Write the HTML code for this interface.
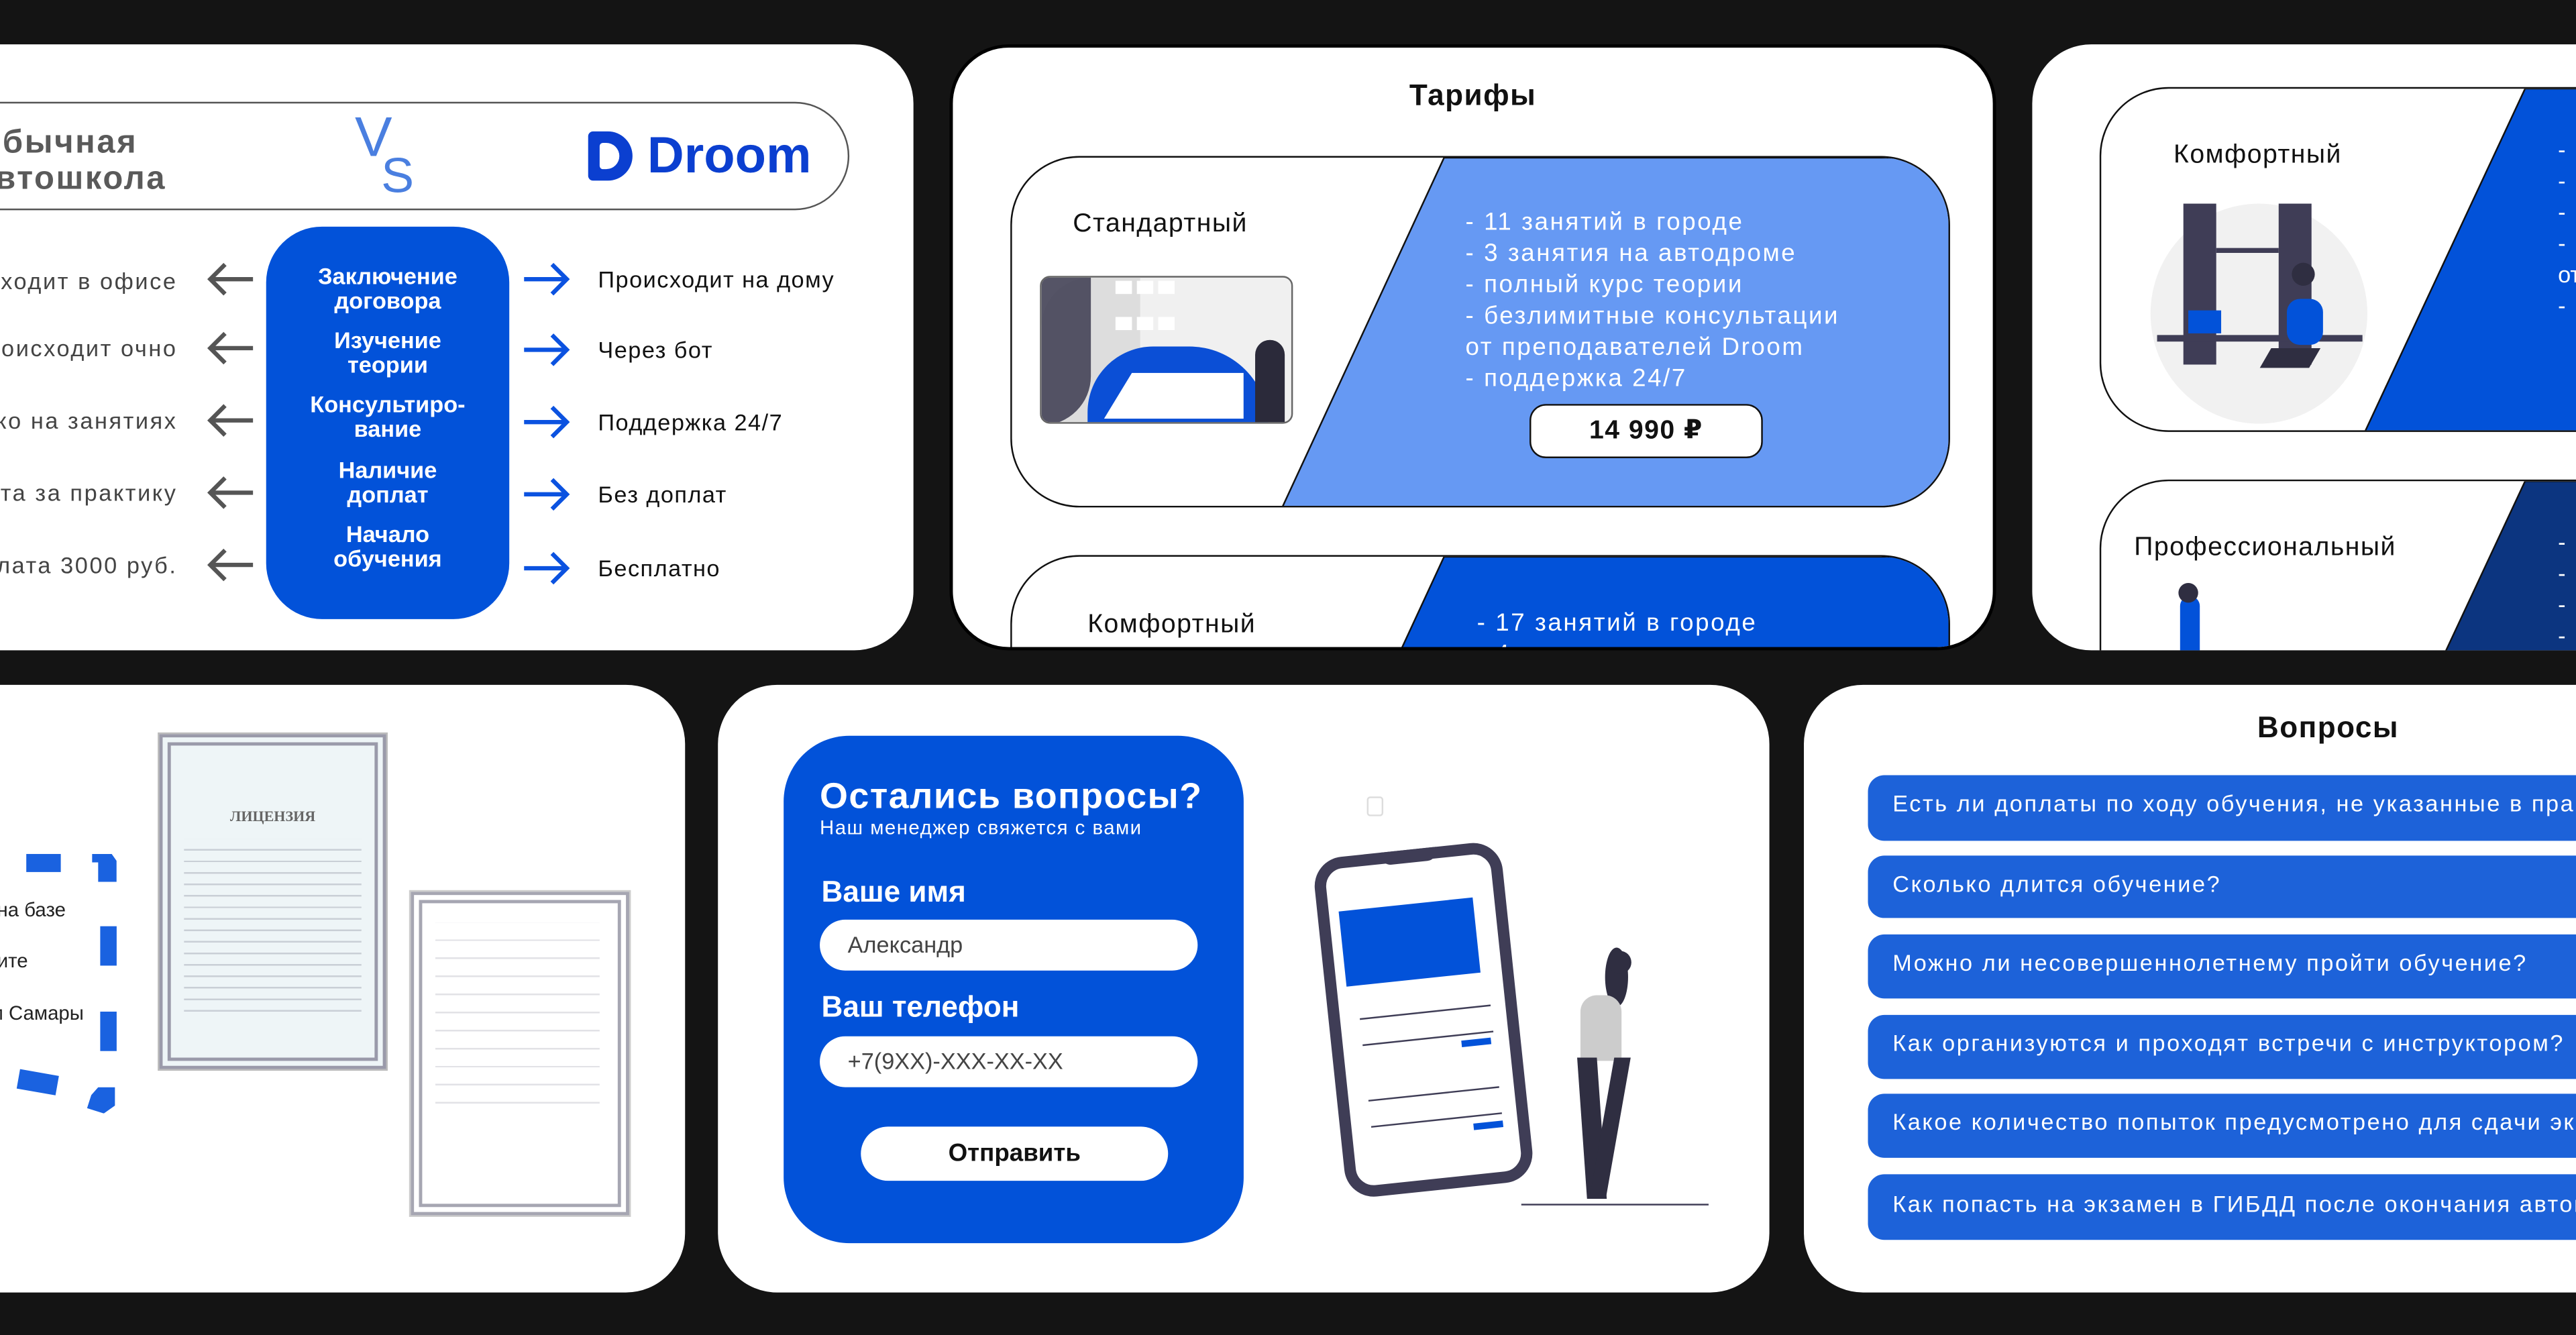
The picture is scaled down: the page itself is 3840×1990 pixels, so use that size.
<!DOCTYPE html>
<html><head><meta charset="utf-8"><style>
*{margin:0;padding:0;box-sizing:border-box}
html,body{width:3840px;height:1990px;overflow:hidden;background:#141414}
#w{position:absolute;left:0;top:0;width:1568px;height:813px;transform:scale(2.449,2.448);transform-origin:0 0;font-family:"Liberation Sans","DejaVu Sans",sans-serif}
.a{position:absolute}
.card{position:absolute;background:#fff;border-radius:36px;overflow:hidden}
.t{position:absolute;white-space:nowrap;line-height:1}
.b{font-weight:bold}
.ls{letter-spacing:.6px}
.ls2{letter-spacing:1.05px}
</style></head><body><div id="w">

<!-- Card 1 -->
<div class="card" style="left:-40px;top:27px;width:596px;height:369px">
  <div class="a" style="left:-20px;top:35px;width:577px;height:66px;border:1.3px solid #555;border-radius:33px"></div>
  <div class="t b ls2" style="left:25px;top:49px;font-size:20px;color:#5a5a5a;line-height:22px">Обычная<br>автошкола</div>
  <div class="t" style="left:256px;top:40px;font-size:34px;color:#4a7fe0;font-weight:300">V</div>
  <div class="t" style="left:272px;top:66px;font-size:30px;color:#4a7fe0">S</div>
  <div class="a" style="left:398px;top:53px;width:27px;height:30px;background:#0b3fd0;border-radius:3px 15px 15px 3px"></div>
  <div class="a" style="left:405px;top:60px;width:12px;height:16px;background:#fff;border-radius:2px 8px 8px 2px"></div>
  <div class="t b" style="left:434px;top:52px;font-size:31px;color:#0b3fd0">Droom</div>
  <div class="a" style="left:202px;top:111px;width:148px;height:239px;background:#0252d9;border-radius:34px"></div>
  <div class="t b" style="left:202px;width:148px;text-align:center;top:134px;font-size:14px;color:#fff;line-height:15px">Заключение<br>договора</div>
  <div class="t b" style="left:202px;width:148px;text-align:center;top:173px;font-size:14px;color:#fff;line-height:15px">Изучение<br>теории</div>
  <div class="t b" style="left:202px;width:148px;text-align:center;top:212px;font-size:14px;color:#fff;line-height:15px">Консультиро-<br>вание</div>
  <div class="t b" style="left:202px;width:148px;text-align:center;top:252px;font-size:14px;color:#fff;line-height:15px">Наличие<br>доплат</div>
  <div class="t b" style="left:202px;width:148px;text-align:center;top:291px;font-size:14px;color:#fff;line-height:15px">Начало<br>обучения</div>
  <svg class="a" style="left:0;top:0" width="596" height="369">
    <g stroke="#555" stroke-width="2.6" fill="none">
      <path d="M194 143H168M177 134L168 143L177 152"/><path d="M194 185H168M177 176L168 185L177 194"/>
      <path d="M194 229H168M177 220L168 229L177 238"/><path d="M194 273H168M177 264L168 273L177 282"/>
      <path d="M194 317H168M177 308L168 317L177 326"/>
    </g>
    <g stroke="#0b52e0" stroke-width="2.6" fill="none">
      <path d="M359 143H385M376 134L385 143L376 152"/><path d="M359 186H385M376 177L385 186L376 195"/>
      <path d="M359 230H385M376 221L385 230L376 239"/><path d="M359 274H385M376 265L385 274L376 283"/>
      <path d="M359 319H385M376 310L385 319L376 328"/>
    </g>
  </svg>
  <div class="t ls2" style="right:448px;top:137px;font-size:14px;color:#444">Происходит в офисе</div>
  <div class="t ls2" style="right:448px;top:178px;font-size:14px;color:#444">Происходит очно</div>
  <div class="t ls2" style="right:448px;top:222px;font-size:14px;color:#444">Только на занятиях</div>
  <div class="t ls2" style="right:448px;top:266px;font-size:14px;color:#444">Оплата за практику</div>
  <div class="t ls2" style="right:448px;top:310px;font-size:14px;color:#444">Предоплата 3000 руб.</div>
  <div class="t ls" style="left:404px;top:136px;font-size:14px;color:#111">Происходит на дому</div>
  <div class="t ls" style="left:404px;top:179px;font-size:14px;color:#111">Через бот</div>
  <div class="t ls" style="left:404px;top:223px;font-size:14px;color:#111">Поддержка 24/7</div>
  <div class="t ls" style="left:404px;top:267px;font-size:14px;color:#111">Без доплат</div>
  <div class="t ls" style="left:404px;top:312px;font-size:14px;color:#111">Бесплатно</div>
</div>

<!-- Card 2 -->
<div class="card" style="left:578px;top:27px;width:637px;height:369px;border:2px solid #000">
  <div class="t b ls" style="left:0;width:633px;text-align:center;top:20px;font-size:18px;color:#111">Тарифы</div>
  <div class="a" style="left:35px;top:66px;width:572px;height:214px;border:1.3px solid #111;border-radius:42px;overflow:hidden">
    <svg class="a" style="left:0;top:0" width="572" height="214"><polygon points="263,0 572,0 572,214 164,214" fill="#6699f3" stroke="#111" stroke-width="1"/></svg>
    <div class="t ls" style="left:37px;top:33px;font-size:16px;color:#111">Стандартный</div>
    <div class="a" style="left:17px;top:72px;width:154px;height:90px;border-radius:6px;background:#f0f0f0;overflow:hidden;border:1px solid #666">
      <div class="a" style="left:0;top:0;width:60px;height:90px;background:#ddd;border-radius:30px 0 0 0"></div>
      <div class="a" style="left:0;top:0;width:30px;height:90px;background:#444356;border-radius:0 0 60px 0;opacity:.9"></div>
      <div class="a" style="left:45px;top:2px;width:10px;height:8px;background:#fff;box-shadow:13px 0 #fff,26px 0 #fff,0 22px #fff,13px 22px #fff,26px 22px #fff"></div>
      <div class="a" style="left:28px;top:42px;width:110px;height:48px;background:#0b4fd6;border-radius:50px 60px 0 0"></div>
      <div class="a" style="left:38px;top:58px;width:85px;height:28px;background:#fff;clip-path:polygon(20% 0,100% 0,100% 100%,0 100%)"></div>
      <div class="a" style="left:130px;top:38px;width:18px;height:52px;background:#2b2a3a;border-radius:9px 9px 0 0"></div>
    </div>
    <div class="t ls2" style="left:276px;top:30px;font-size:15px;color:#fff;line-height:19px">- 11 занятий в городе<br>- 3 занятия на автодроме<br>- полный курс теории<br>- безлимитные консультации<br>от преподавателей Droom<br>- поддержка 24/7</div>
    <div class="a" style="left:315px;top:150px;width:142px;height:33px;background:#fff;border:1px solid #111;border-radius:10px"></div>
    <div class="t b ls" style="left:315px;width:142px;text-align:center;top:159px;font-size:16px;color:#111">14 990 ₽</div>
  </div>
  <div class="a" style="left:35px;top:309px;width:572px;height:214px;border:1.3px solid #111;border-radius:42px;overflow:hidden">
    <svg class="a" style="left:0;top:0" width="572" height="214"><polygon points="263,0 572,0 572,214 164,214" fill="#0252d9" stroke="#111" stroke-width="1"/></svg>
    <div class="t ls" style="left:46px;top:34px;font-size:16px;color:#111">Комфортный</div>
    <div class="t ls2" style="left:283px;top:31px;font-size:15px;color:#fff;line-height:19px">- 17 занятий в городе<br>- 4 занятия на автодроме</div>
  </div>
</div>

<!-- Card 3 -->
<div class="card" style="left:1237px;top:27px;width:400px;height:369px">
  <div class="a" style="left:41px;top:26px;width:400px;height:210px;border:1.3px solid #111;border-radius:42px;overflow:hidden">
    <svg class="a" style="left:0;top:0" width="400" height="210"><polygon points="258,0 400,0 400,210 160,210" fill="#0252d9" stroke="#111" stroke-width="1"/></svg>
    <div class="t ls" style="left:44px;top:33px;font-size:16px;color:#111">Комфортный</div>
    <div class="a" style="left:30px;top:70px;width:132px;height:134px;border-radius:50%;background:#f1f1f1"></div>
    <div class="a" style="left:50px;top:70px;width:20px;height:98px;background:#3f3d56"></div>
    <div class="a" style="left:108px;top:70px;width:20px;height:98px;background:#3f3d56"></div>
    <div class="a" style="left:70px;top:97px;width:38px;height:3px;background:#3f3d56"></div>
    <div class="a" style="left:34px;top:150px;width:125px;height:4px;background:#3f3d56"></div>
    <div class="a" style="left:53px;top:135px;width:20px;height:14px;background:#0252d9"></div>
    <div class="a" style="left:113px;top:128px;width:22px;height:28px;background:#0252d9;border-radius:8px"></div>
    <div class="a" style="left:100px;top:158px;width:30px;height:12px;background:#2f2e41;transform:skewX(-30deg)"></div>
    <div class="a" style="left:116px;top:106px;width:14px;height:14px;background:#2f2e41;border-radius:50%"></div>
    <div class="t" style="left:278px;top:28px;font-size:14px;color:#fff;line-height:19px">-<br>-<br>-<br>-<br>от<br>-</div>
  </div>
  <div class="a" style="left:41px;top:265px;width:400px;height:210px;border:1.3px solid #111;border-radius:42px;overflow:hidden">
    <svg class="a" style="left:0;top:0" width="400" height="210"><polygon points="258,0 400,0 400,210 160,210" fill="#0c3580" stroke="#111" stroke-width="1"/></svg>
    <div class="t ls" style="left:20px;top:33px;font-size:16px;color:#111">Профессиональный</div>
    <div class="a" style="left:48px;top:70px;width:12px;height:40px;background:#0252d9;border-radius:6px 6px 0 0"></div>
    <div class="a" style="left:47px;top:62px;width:12px;height:12px;background:#2f2e41;border-radius:50%"></div>
    <div class="t" style="left:278px;top:28px;font-size:14px;color:#fff;line-height:19px">-<br>-<br>-<br>-</div>
  </div>
</div>

<!-- Card 4 -->
<div class="card" style="left:-40px;top:417px;width:457px;height:370px">
  <div class="a" style="left:56px;top:103px;width:21px;height:11px;background:#1a62e0"></div>
  <div class="a" style="left:96px;top:103px;width:15px;height:17px;background:#1a62e0;clip-path:polygon(0 0,80% 0,100% 25%,100% 100%,25% 100%,25% 30%,0 30%)"></div>
  <div class="a" style="left:101px;top:147px;width:10px;height:24px;background:#1a62e0"></div>
  <div class="a" style="left:101px;top:199px;width:10px;height:24px;background:#1a62e0"></div>
  <div class="a" style="left:51px;top:236px;width:24px;height:12px;background:#1a62e0;transform:rotate(10deg)"></div>
  <div class="a" style="left:93px;top:245px;width:17px;height:16px;background:#1a62e0;clip-path:polygon(40% 0,100% 0,100% 70%,60% 100%,0 80%,15% 30%)"></div>
  <div class="t" style="right:377px;top:131px;font-size:12px;color:#222">Обучение на базе</div>
  <div class="t" style="right:400px;top:162px;font-size:12px;color:#222">Вы получите</div>
  <div class="t" style="right:366px;top:194px;font-size:12px;color:#222">По улицам Самары</div>
  <div class="a" style="left:137px;top:30px;width:138px;height:204px;background:#eef5f7;border:7px double #9a9aaa;outline:1px solid #bbb"></div>
  <div class="t b" style="left:137px;width:138px;text-align:center;top:76px;font-size:9px;color:#666;font-family:'Liberation Serif',serif">ЛИЦЕНЗИЯ</div>
  <div class="a" style="left:152px;top:94px;width:108px;height:110px;background:repeating-linear-gradient(#eef5f7 0 6px,#c9cfd6 6px 7px)"></div>
  <div class="a" style="left:290px;top:126px;width:133px;height:197px;background:#fff;border:7px double #a6a6b2;outline:1px solid #ccc"></div>
  <div class="a" style="left:305px;top:145px;width:100px;height:120px;background:repeating-linear-gradient(#fff 0 10px,#e2e2e6 10px 11px)"></div>
</div>

<!-- Card 5 -->
<div class="card" style="left:437px;top:417px;width:640px;height:370px">
  <div class="a" style="left:40px;top:31px;width:280px;height:309px;background:#0252d9;border-radius:40px"></div>
  <div class="t b ls" style="left:62px;top:57px;font-size:22px;color:#fff">Остались вопросы?</div>
  <div class="t ls" style="left:62px;top:81px;font-size:12px;color:#fff">Наш менеджер свяжется с вами</div>
  <div class="t b" style="left:63px;top:117px;font-size:18px;color:#fff">Ваше имя</div>
  <div class="a" style="left:62px;top:143px;width:230px;height:31px;background:#fff;border-radius:16px"></div>
  <div class="t" style="left:79px;top:151px;font-size:14px;color:#444">Александр</div>
  <div class="t b" style="left:63px;top:187px;font-size:18px;color:#fff">Ваш телефон</div>
  <div class="a" style="left:62px;top:214px;width:230px;height:31px;background:#fff;border-radius:16px"></div>
  <div class="t" style="left:79px;top:222px;font-size:14px;color:#444">+7(9XX)-XXX-XX-XX</div>
  <div class="a" style="left:87px;top:269px;width:187px;height:33px;background:#fff;border-radius:17px"></div>
  <div class="t b" style="left:87px;width:187px;text-align:center;top:278px;font-size:15px;color:#111">Отправить</div>
  <div class="a" style="left:372px;top:100px;width:115px;height:208px;border:7px solid #3f3d56;border-radius:18px;background:#fff;transform:rotate(-6deg)">
    <div class="a" style="left:6px;top:26px;width:82px;height:46px;background:#0252d9"></div>
    <div class="a" style="left:12px;top:92px;width:80px;height:1px;background:#3f3d56;box-shadow:0 16px #3f3d56,0 50px #3f3d56,0 66px #3f3d56"></div>
    <div class="a" style="left:72px;top:112px;width:18px;height:4px;background:#0252d9;box-shadow:2px 51px #0252d9"></div>
    <div class="a" style="left:35px;top:-7px;width:34px;height:8px;background:#3f3d56;border-radius:0 0 6px 6px"></div>
  </div>
  <div class="a" style="left:395px;top:68px;width:10px;height:12px;border:1px solid #ddd;border-radius:2px"></div>
  <div class="a" style="left:540px;top:160px;width:14px;height:36px;background:#2f2e41;border-radius:50%"></div>
  <div class="a" style="left:542px;top:162px;width:14px;height:14px;background:#2f2e41;border-radius:50%"></div>
  <div class="a" style="left:525px;top:189px;width:25px;height:40px;background:#ccc;border-radius:10px 10px 2px 2px"></div>
  <div class="a" style="left:526px;top:227px;width:12px;height:86px;background:#2f2e41;transform:skewX(4deg)"></div>
  <div class="a" style="left:538px;top:227px;width:10px;height:86px;background:#2f2e41;transform:skewX(-10deg)"></div>
  <div class="a" style="left:489px;top:316px;width:114px;height:1px;background:#3f3d56"></div>
</div>

<!-- Card 6 -->
<div class="card" style="left:1098px;top:417px;width:520px;height:370px">
  <div class="t b ls" style="left:276px;top:17px;font-size:18px;color:#111">Вопросы</div>
  <div class="a" style="left:39px;top:55px;width:500px;height:40px;background:#1d62d9;border-radius:10px"></div>
  <div class="a" style="left:39px;top:104px;width:500px;height:38px;background:#1d62d9;border-radius:10px"></div>
  <div class="a" style="left:39px;top:152px;width:500px;height:39px;background:#1d62d9;border-radius:10px"></div>
  <div class="a" style="left:39px;top:201px;width:500px;height:39px;background:#1d62d9;border-radius:10px"></div>
  <div class="a" style="left:39px;top:249px;width:500px;height:39px;background:#1d62d9;border-radius:10px"></div>
  <div class="a" style="left:39px;top:298px;width:500px;height:40px;background:#1d62d9;border-radius:10px"></div>
  <div class="t ls2" style="left:54px;top:65px;font-size:14px;color:#fff">Есть ли доплаты по ходу обучения, не указанные в прайсе?</div>
  <div class="t ls2" style="left:54px;top:114px;font-size:14px;color:#fff">Сколько длится обучение?</div>
  <div class="t ls2" style="left:54px;top:162px;font-size:14px;color:#fff">Можно ли несовершеннолетнему пройти обучение?</div>
  <div class="t ls2" style="left:54px;top:211px;font-size:14px;color:#fff">Как организуются и проходят встречи с инструктором?</div>
  <div class="t ls2" style="left:54px;top:259px;font-size:14px;color:#fff">Какое количество попыток предусмотрено для сдачи экзамена?</div>
  <div class="t ls2" style="left:54px;top:309px;font-size:14px;color:#fff">Как попасть на экзамен в ГИБДД после окончания автошколы?</div>
</div>

</div></body></html>
